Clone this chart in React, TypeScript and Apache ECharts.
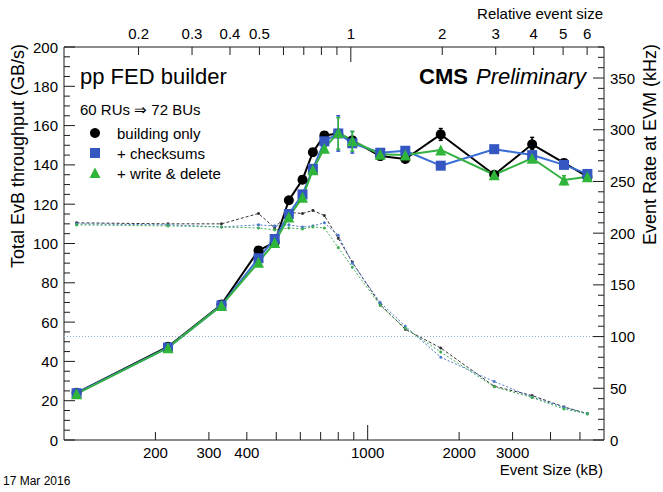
import React, { useEffect, useRef } from "react";
import * as echarts from "echarts";

// ---- data ----
const EVENT_SIZE_KB = [110, 220, 330, 437, 494, 550, 610, 660, 720, 800, 890, 1100, 1330, 1740, 2610, 3480, 4430, 5290];

const THROUGHPUT_BUILDING_ONLY = [24, 47.5, 69, 96.5, 100.5, 122, 132.5, 146.5, 155, 156, 152.5, 144.5, 143, 155.5, 135, 150.5, 141, 134];
const THROUGHPUT_CHECKSUMS = [23.8, 47, 68.5, 92.5, 102.3, 115, 125, 138, 152, 156, 151, 146.2, 147.2, 139.6, 148, 145, 140, 135.4];
const THROUGHPUT_WRITE_DELETE = [23.5, 47, 68.5, 90.5, 100.5, 113.5, 123.5, 137.5, 148.5, 156.5, 152.3, 145.4, 145, 147.6, 135, 143.4, 132.3, 134];

const RATE_BUILDING_ONLY = [210, 209, 209, 219, 205, 220, 219, 222, 217, 195, 172, 131, 107, 89, 52, 43, 32, 25.5];
const RATE_CHECKSUMS = [209, 208, 206, 208, 207, 208, 206, 207, 210, 198, 171, 133, 110, 80, 56.5, 41.5, 31.5, 25.5];
const RATE_WRITE_DELETE = [208, 207, 206, 205, 203, 205, 204, 206, 205, 186, 167, 130, 108, 85, 51.5, 41, 30, 25.3];

// error bars: [event size, low, high]
const ERR_BUILDING_ONLY = [[1740, 152.5, 158.5], [3480, 148, 154]];
const ERR_CHECKSUMS = [[800, 147, 165], [890, 146, 157]];
const ERR_WRITE_DELETE = [[800, 148, 164], [890, 147, 157], [4430, 130, 134.5]];

const RATE_REFERENCE_LINE = 100;

// axes
const X_MIN = 100;
const X_MAX = 6000;
const REF_EVENT_SIZE = 880;
const BOTTOM_TICKS = [200, 300, 400, 500, 600, 700, 800, 900, 2000, 3000, 4000, 5000];
const BOTTOM_LABELS = [200, 300, 400, 1000, 2000, 3000];
const BOTTOM_DECADE = [1000];
const TOP_TICKS = [0.2, 0.3, 0.4, 0.5, 0.6, 0.7, 0.8, 0.9, 2, 3, 4, 5, 6];
const TOP_LABELS = [0.2, 0.3, 0.4, 0.5, 1, 2, 3, 4, 5, 6];
const TOP_DECADE = [1];

const LEFT_MAX = 200;
const LEFT_STEP = 20;
const LEFT_MINOR_STEP = 5;
const RIGHT_MAX = 380;
const RIGHT_STEP = 50;
const RIGHT_MINOR_STEP = 10;

function steps(max: number, step: number, skip: number) {
  const out: number[] = [];
  for (let v = 0; v <= max + 1e-9; v += step) {
    if (skip > 0 && Math.abs(v / skip - Math.round(v / skip)) < 1e-9) continue;
    out.push(v);
  }
  return out;
}
const LEFT_MAJOR = steps(LEFT_MAX, LEFT_STEP, 0);
const LEFT_MINOR = steps(LEFT_MAX, LEFT_MINOR_STEP, LEFT_STEP);
const RIGHT_MAJOR = steps(RIGHT_MAX, RIGHT_STEP, 0);
const RIGHT_MINOR = steps(RIGHT_MAX, RIGHT_MINOR_STEP, RIGHT_STEP);

const FONT = '"Liberation Sans", Arial, Helvetica, sans-serif';
const AXIS_COLOR = "#1a1a1a";
const BLACK = "#000000";
const BLUE = "#3457c2";
const BLUE_LINE = "#3b6fd6";
const GREEN = "#2fb53a";
const GREEN_LINE = "#35b043";

function pairs(xs: number[], ys: number[]) {
  return xs.map((x, i) => [x, ys[i]]);
}

function errorSeries(data: number[][], color: string) {
  return {
    type: "custom",
    xAxisIndex: 0,
    yAxisIndex: 0,
    z: 4,
    silent: true,
    encode: { x: 0, y: [1, 2] },
    data,
    renderItem: (params: any, api: any) => {
      const x = api.value(0);
      const lo = api.coord([x, api.value(1)]);
      const hi = api.coord([x, api.value(2)]);
      return {
        type: "group",
        children: [
          { type: "line", shape: { x1: lo[0], y1: lo[1], x2: hi[0], y2: hi[1] }, style: { stroke: color, lineWidth: 1.5 } },
          { type: "line", shape: { x1: lo[0] - 2, y1: lo[1], x2: lo[0] + 2, y2: lo[1] }, style: { stroke: color, lineWidth: 1.5 } },
          { type: "line", shape: { x1: hi[0] - 2, y1: hi[1], x2: hi[0] + 2, y2: hi[1] }, style: { stroke: color, lineWidth: 1.5 } },
        ],
      };
    },
  };
}

// inside tick marks along the top / bottom edge, placed by the x axis scale
function xTickSeries(values: number[], xAxisIndex: number, side: "top" | "bottom", length: number) {
  return {
    type: "custom",
    xAxisIndex,
    yAxisIndex: 0,
    z: 6,
    silent: true,
    clip: false,
    encode: { x: 0, y: 1 },
    data: values.map((v) => [v, 0]),
    renderItem: (params: any, api: any) => {
      const cs = params.coordSys;
      const x = api.coord([api.value(0), 0])[0];
      const y0 = side === "bottom" ? cs.y + cs.height : cs.y;
      const y1 = side === "bottom" ? y0 - length : y0 + length;
      return { type: "line", shape: { x1: x, y1: y0, x2: x, y2: y1 }, style: { stroke: AXIS_COLOR, lineWidth: 1 } };
    },
  };
}

// inside tick marks along the left / right edge, placed by the y axis scale
function yTickSeries(values: number[], yAxisIndex: number, side: "left" | "right", length: number) {
  return {
    type: "custom",
    xAxisIndex: 0,
    yAxisIndex,
    z: 6,
    silent: true,
    clip: false,
    encode: { x: 0, y: 1 },
    data: values.map((v) => [X_MIN, v]),
    renderItem: (params: any, api: any) => {
      const cs = params.coordSys;
      const y = api.coord([api.value(0), api.value(1)])[1];
      const x0 = side === "left" ? cs.x : cs.x + cs.width;
      const x1 = side === "left" ? x0 + length : x0 - length;
      return { type: "line", shape: { x1: x0, y1: y, x2: x1, y2: y }, style: { stroke: AXIS_COLOR, lineWidth: 1 } };
    },
  };
}

const labelStyle = () => ({ color: "#000", fontFamily: FONT, fontSize: 15 });

export default function App() {
  const ref = useRef<HTMLDivElement>(null);

  useEffect(() => {
    document.body.style.margin = "0";
    const chart = echarts.init(ref.current!, null, { renderer: "svg" });
    const option: any = {
      animation: false,
      backgroundColor: "#ffffff",
      grid: {
        left: 64,
        right: 59,
        top: 47,
        bottom: 52,
        outerBoundsMode: "none",
        show: true,
        borderColor: AXIS_COLOR,
        borderWidth: 1,
        backgroundColor: "transparent",
      },
      xAxis: [
        {
          type: "log",
          logBase: 10,
          min: X_MIN,
          max: X_MAX,
          position: "bottom",
          axisLine: { show: false },
          axisTick: { show: false },
          minorTick: { show: false },
          axisLabel: { ...labelStyle(), margin: 5, customValues: BOTTOM_LABELS, formatter: (v: number) => String(Math.round(v)) },
          splitLine: { show: false },
        },
        {
          type: "log",
          logBase: 10,
          min: X_MIN / REF_EVENT_SIZE,
          max: X_MAX / REF_EVENT_SIZE,
          position: "top",
          axisLine: { show: false },
          axisTick: { show: false },
          minorTick: { show: false },
          axisLabel: { ...labelStyle(), margin: 6, customValues: TOP_LABELS, formatter: (v: number) => String(+v.toFixed(1)) },
          splitLine: { show: false },
        },
      ],
      yAxis: [
        {
          type: "value",
          min: 0,
          max: LEFT_MAX,
          interval: LEFT_STEP,
          position: "left",
          axisLine: { show: false },
          axisTick: { show: false },
          minorTick: { show: false },
          axisLabel: { ...labelStyle(), margin: 6 },
          splitLine: { show: false },
        },
        {
          type: "value",
          min: 0,
          max: RIGHT_MAX,
          interval: RIGHT_STEP,
          position: "right",
          axisLine: { show: false },
          axisTick: { show: false },
          minorTick: { show: false },
          axisLabel: { ...labelStyle(), margin: 6, showMaxLabel: false },
          splitLine: { show: false },
        },
      ],
      series: [
        {
          name: "rate building only",
          type: "line",
          xAxisIndex: 0,
          yAxisIndex: 1,
          z: 1,
          data: pairs(EVENT_SIZE_KB, RATE_BUILDING_ONLY),
          symbol: "circle",
          symbolSize: 3,
          itemStyle: { color: "#333" },
          lineStyle: { color: "#333", width: 1, type: [3, 2] },
        },
        {
          name: "rate checksums",
          type: "line",
          xAxisIndex: 0,
          yAxisIndex: 1,
          z: 1,
          data: pairs(EVENT_SIZE_KB, RATE_CHECKSUMS),
          symbol: "circle",
          symbolSize: 3,
          itemStyle: { color: "#4a78cc" },
          lineStyle: { color: "#4a78cc", width: 1, type: [2, 2] },
          markLine: {
            silent: true,
            symbol: ["none", "none"],
            label: { show: false },
            lineStyle: { color: "#8fb0d0", width: 1, type: [1, 2] },
            data: [{ yAxis: RATE_REFERENCE_LINE }],
          },
        },
        {
          name: "rate write & delete",
          type: "line",
          xAxisIndex: 0,
          yAxisIndex: 1,
          z: 1,
          data: pairs(EVENT_SIZE_KB, RATE_WRITE_DELETE),
          symbol: "circle",
          symbolSize: 3,
          itemStyle: { color: "#3fae55" },
          lineStyle: { color: "#3fae55", width: 1, type: [2, 2] },
        },
        {
          name: "building only",
          type: "line",
          xAxisIndex: 0,
          yAxisIndex: 0,
          z: 3,
          data: pairs(EVENT_SIZE_KB, THROUGHPUT_BUILDING_ONLY),
          symbol: "circle",
          symbolSize: 10,
          itemStyle: { color: BLACK },
          lineStyle: { color: BLACK, width: 2 },
        },
        {
          name: "+ checksums",
          type: "line",
          xAxisIndex: 0,
          yAxisIndex: 0,
          z: 3,
          data: pairs(EVENT_SIZE_KB, THROUGHPUT_CHECKSUMS),
          symbol: "rect",
          symbolSize: 10,
          itemStyle: { color: BLUE },
          lineStyle: { color: BLUE_LINE, width: 2 },
        },
        {
          name: "+ write & delete",
          type: "line",
          xAxisIndex: 0,
          yAxisIndex: 0,
          z: 3,
          data: pairs(EVENT_SIZE_KB, THROUGHPUT_WRITE_DELETE),
          symbol: "triangle",
          symbolSize: 11,
          itemStyle: { color: GREEN },
          lineStyle: { color: GREEN_LINE, width: 2 },
        },
        errorSeries(ERR_BUILDING_ONLY, BLACK),
        errorSeries(ERR_CHECKSUMS, BLUE),
        errorSeries(ERR_WRITE_DELETE, GREEN),
        xTickSeries(BOTTOM_TICKS, 0, "bottom", 8),
        xTickSeries(BOTTOM_DECADE, 0, "bottom", 15),
        xTickSeries(TOP_TICKS, 1, "top", 8),
        xTickSeries(TOP_DECADE, 1, "top", 15),
        yTickSeries(LEFT_MAJOR, 0, "left", 11),
        yTickSeries(LEFT_MINOR, 0, "left", 6),
        yTickSeries(RIGHT_MAJOR, 1, "right", 11),
        yTickSeries(RIGHT_MINOR, 1, "right", 6),
      ],
      graphic: [
        { type: "text", x: 80, y: 76, style: { text: "pp FED builder", font: `22px ${FONT}`, fill: "#000", align: "left", verticalAlign: "middle" } },
        { type: "text", x: 80, y: 109, style: { text: "60 RUs \u21D2 72 BUs", font: `15px ${FONT}`, fill: "#000", align: "left", verticalAlign: "middle" } },
        { type: "circle", shape: { cx: 95, cy: 133, r: 5 }, style: { fill: BLACK } },
        { type: "text", x: 117, y: 133, style: { text: "building only", font: `15px ${FONT}`, fill: "#000", align: "left", verticalAlign: "middle" } },
        { type: "rect", shape: { x: 90, y: 148, width: 10, height: 10 }, style: { fill: BLUE } },
        { type: "text", x: 117, y: 153, style: { text: "+ checksums", font: `15px ${FONT}`, fill: "#000", align: "left", verticalAlign: "middle" } },
        { type: "polygon", shape: { points: [[95, 167.5], [89.5, 178], [100.5, 178]] }, style: { fill: GREEN } },
        { type: "text", x: 117, y: 173, style: { text: "+ write & delete", font: `15px ${FONT}`, fill: "#000", align: "left", verticalAlign: "middle" } },
        { type: "text", x: 468, y: 76, style: { text: "CMS", font: `bold 22px ${FONT}`, fill: "#000", align: "right", verticalAlign: "middle" } },
        { type: "text", x: 586, y: 76, style: { text: "Preliminary", font: `italic 22px ${FONT}`, fill: "#000", align: "right", verticalAlign: "middle" } },
        { type: "text", x: 18, y: 44, rotation: Math.PI / 2, style: { text: "Total EvB throughput (GB/s)", font: `18px ${FONT}`, fill: "#000", align: "right", verticalAlign: "middle" } },
        { type: "text", x: 650, y: 44, rotation: Math.PI / 2, style: { text: "Event Rate at EVM (kHz)", font: `18px ${FONT}`, fill: "#000", align: "right", verticalAlign: "middle" } },
        { type: "text", x: 603, y: 469, style: { text: "Event Size (kB)", font: `15px ${FONT}`, fill: "#000", align: "right", verticalAlign: "middle" } },
        { type: "text", x: 603, y: 13, style: { text: "Relative event size", font: `15px ${FONT}`, fill: "#000", align: "right", verticalAlign: "middle" } },
        { type: "text", x: 3, y: 481, style: { text: "17 Mar 2016", font: `12px ${FONT}`, fill: "#000", align: "left", verticalAlign: "middle" } },
      ],
    };
    chart.setOption(option);
    return () => chart.dispose();
  }, []);

  return <div ref={ref} style={{ position: "fixed", left: 0, top: 0, width: 663, height: 492 }} />;
}
